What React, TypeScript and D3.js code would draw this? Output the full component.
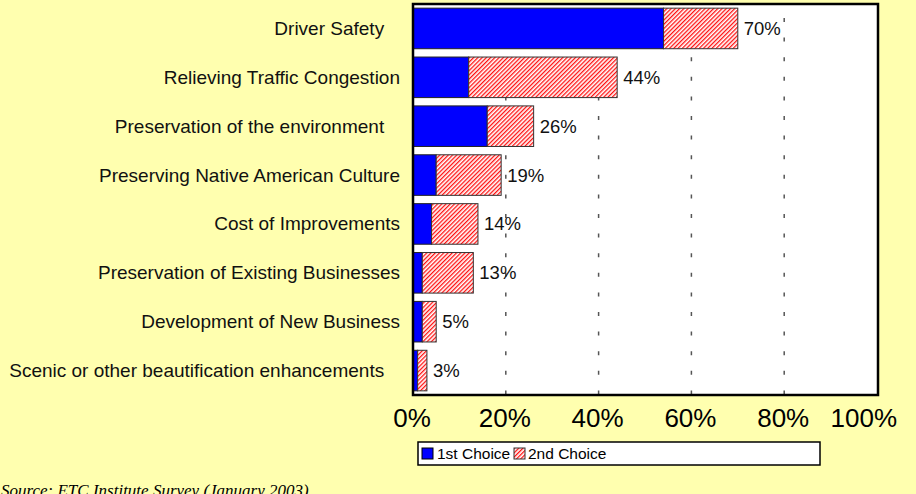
import * as d3 from 'd3';

// survey: most important factor, share of respondents
const categories = [
  'Driver Safety   ',
  'Relieving Traffic Congestion',
  'Preservation of the environment   ',
  'Preserving Native American Culture',
  'Cost of Improvements',
  'Preservation of Existing Businesses',
  'Development of New Business',
  'Scenic or other beautification enhancements   ',
];
const firstChoice = [54, 12, 16, 5, 4, 2, 2, 1];
const secondChoice = [16, 32, 10, 14, 10, 11, 3, 2];
const totalLabels = ['70%', '44%', '26%', '19%', '14%', '13%', '5%', '3%'];
const xTicks = [0, 20, 40, 60, 80, 100];
const seriesNames = ['1st Choice', '2nd Choice'];

const W = 916;
const H = 494;
const plot = { left: 413, top: 4, right: 878, bottom: 395 };
const chartRight = 897; // excel keeps the last tick label inside the chart
const bg = '#FFFFAF';

const App = () => {
  const x = d3.scaleLinear().domain([0, 100]).range([plot.left, plot.right - 1]);
  const y = d3
    .scaleBand()
    .domain(categories)
    .range([plot.top, plot.bottom])
    .paddingInner(0.17)
    .paddingOuter(0.085);

  const font = 'Arial, "Liberation Sans", sans-serif';

  return (
    <svg width={W} height={H} style={{ position: 'absolute', left: 0, top: 0 }}>
      <defs>
        <pattern id="hatch" patternUnits="userSpaceOnUse" width={3} height={3} patternTransform="rotate(45)">
          <rect width={3} height={3} fill="#fff" />
          <rect width={1.3} height={3} fill="#FF1010" />
        </pattern>
      </defs>
      <rect width={W} height={H} fill={bg} />

      {/* plot area */}
      <rect x={plot.left} y={plot.top} width={plot.right - plot.left} height={plot.bottom - plot.top} fill="#fff" />

      {/* dashed grid */}
      {xTicks.slice(1, -1).map(t => (
        <line key={t} x1={x(t)} x2={x(t)} y1={18} y2={plot.bottom}
          stroke="#555" strokeWidth={1.5} strokeDasharray="4,15.6" />
      ))}

      {/* bars */}
      {categories.map((c, i) => {
        const by = y(c) || 0;
        const bh = y.bandwidth();
        const x0 = x(0);
        const x1 = x(firstChoice[i]);
        const x2 = x(firstChoice[i] + secondChoice[i]);
        return (
          <g key={c}>
            <rect x={x0} y={by} width={x1 - x0} height={bh} fill="#0000FF" stroke="#222" strokeWidth={1} />
            <rect x={x1} y={by} width={x2 - x1} height={bh} fill="url(#hatch)" stroke="#333" strokeWidth={1} />
            <text x={x2 + 6} y={by + bh / 2 + 6.5} fontFamily={font} fontSize={18.5} fill="#111">
              {totalLabels[i]}
            </text>
            <text x={400} y={by + bh / 2 + 6.5} textAnchor="end" fontFamily={font} fontSize={19}
              fill="#111" style={{ whiteSpace: 'pre' }}>
              {c}
            </text>
          </g>
        );
      })}

      {/* plot border */}
      <rect x={plot.left} y={plot.top} width={plot.right - plot.left} height={plot.bottom - plot.top}
        fill="none" stroke="#000" strokeWidth={2.5} />

      {/* x tick labels */}
      {xTicks.map((t, i) => {
        const last = i === xTicks.length - 1;
        return (
          <text key={t} x={last ? chartRight : x(t) - 1} y={427} textAnchor={last ? 'end' : 'middle'}
            fontFamily={font} fontSize={26} fill="#000">
            {t + '%'}
          </text>
        );
      })}

      {/* legend */}
      <g transform="translate(418,442)">
        <rect width={402} height={23} fill="#fff" stroke="#000" strokeWidth={1.5} />
        <rect x={4} y={6} width={11} height={11} fill="#0000FF" stroke="#000" strokeWidth={1} />
        <text x={19} y={17} fontFamily={font} fontSize={15.5} fill="#000">{seriesNames[0]}</text>
        <rect x={96} y={6} width={11} height={11} fill="url(#hatch)" stroke="#333" strokeWidth={1} />
        <text x={110} y={17} fontFamily={font} fontSize={15.5} fill="#000">{seriesNames[1]}</text>
      </g>

      {/* source note, clipped by the bottom edge as in the original */}
      <text x={1} y={496} fontFamily='"Liberation Serif", "Times New Roman", serif' fontStyle="italic"
        fontSize={17} fill="#000">
        Source: ETC Institute Survey (January 2003)
      </text>
    </svg>
  );
};

export default App;
